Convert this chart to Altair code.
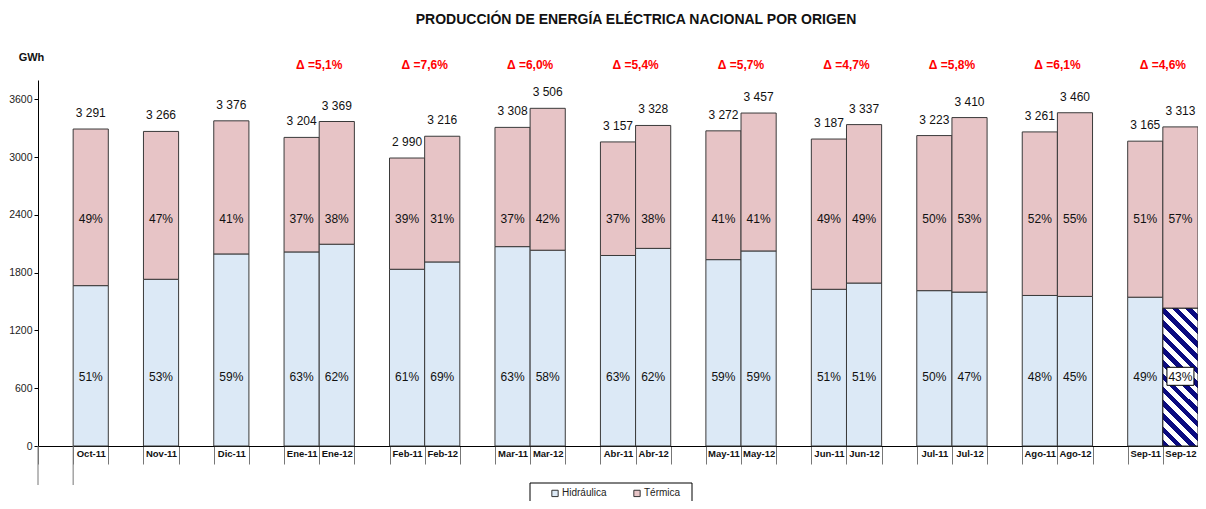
import altair as alt
import pandas as pd

# ---------------- data ----------------
slots = ["_0", "Oct-11", "_2", "Nov-11", "_4", "Dic-11", "_6", "Ene-11", "Ene-12", "_9",
         "Feb-11", "Feb-12", "_12", "Mar-11", "Mar-12", "_15", "Abr-11", "Abr-12", "_18",
         "May-11", "May-12", "_21", "Jun-11", "Jun-12", "_24", "Jul-11", "Jul-12", "_27",
         "Ago-11", "Ago-12", "_30", "Sep-11", "Sep-12"]

periods = ["Oct-11", "Nov-11", "Dic-11", "Ene-11", "Ene-12", "Feb-11", "Feb-12",
           "Mar-11", "Mar-12", "Abr-11", "Abr-12", "May-11", "May-12", "Jun-11", "Jun-12",
           "Jul-11", "Jul-12", "Ago-11", "Ago-12", "Sep-11", "Sep-12"]
totals = [3291, 3266, 3376, 3204, 3369, 2990, 3216, 3308, 3506, 3157, 3328,
          3272, 3457, 3187, 3337, 3223, 3410, 3261, 3460, 3165, 3313]
hydro = [1665, 1731, 1994, 2015, 2095, 1835, 1911, 2070, 2033, 1978, 2052,
         1935, 2025, 1627, 1692, 1613, 1598, 1563, 1553, 1545, 1430]
total_labels = ["3 291", "3 266", "3 376", "3 204", "3 369", "2 990", "3 216", "3 308",
                "3 506", "3 157", "3 328", "3 272", "3 457", "3 187", "3 337", "3 223",
                "3 410", "3 261", "3 460", "3 165", "3 313"]
hydro_pct = ["51%", "53%", "59%", "63%", "62%", "61%", "69%", "63%", "58%", "63%", "62%",
             "59%", "59%", "51%", "51%", "50%", "47%", "48%", "45%", "49%", "43%"]
thermal_pct = ["49%", "47%", "41%", "37%", "38%", "39%", "31%", "37%", "42%", "37%", "38%",
               "41%", "41%", "49%", "49%", "50%", "53%", "52%", "55%", "51%", "57%"]
delta_cats = ["Ene-12", "Feb-12", "Mar-12", "Abr-12", "May-12", "Jun-12", "Jul-12",
              "Ago-12", "Sep-12"]
delta_labels = ["Δ =5,1%", "Δ =7,6%", "Δ =6,0%", "Δ =5,4%", "Δ =5,7%", "Δ =4,7%",
                "Δ =5,8%", "Δ =6,1%", "Δ =4,6%"]
hatched_period = "Sep-12"
sources = ["Hidráulica", "Térmica"]

# ---------------- tables ----------------
rows = []
for p, t, h, hp, tp in zip(periods, totals, hydro, hydro_pct, thermal_pct):
    rows.append({"cat": p, "source": sources[0], "value": h, "ord": 0, "pct": hp})
    rows.append({"cat": p, "source": sources[1], "value": t - h, "ord": 1, "pct": tp})
long_df = pd.DataFrame(rows)
tot_df = pd.DataFrame({"cat": periods, "total": totals, "label": total_labels})
hydro_df = pd.DataFrame({"cat": periods, "value": hydro, "pct": hydro_pct})
therm_df = pd.DataFrame({"cat": periods, "pct": thermal_pct})
delta_df = pd.DataFrame({"cat": delta_cats, "label": delta_labels})
hatch_df = hydro_df[hydro_df["cat"] == hatched_period].reset_index(drop=True)
plain_hydro_df = hydro_df[hydro_df["cat"] != hatched_period].reset_index(drop=True)

FONT = "Liberation Sans, Arial, sans-serif"
BLUE = "#DCE9F6"
PINK = "#E7C4C6"
NAVY = "#0A0A80"

W, H = 1160, 366

XSCALE = alt.Scale(domain=slots, paddingInner=0, paddingOuter=0)
XAXIS = alt.Axis(
    title=None,
    labelExpr="(datum.value == null || indexof(datum.value + '', '_') == 0) ? '' : datum.value",
    labelFont=FONT, labelFontSize=9.5, labelFontWeight="bold",
    labelColor="#111", labelAngle=0, labelPadding=-16,
    tickBand="extent", tickSize=18, tickColor="#777", tickWidth=1,
    domainColor="#000", domainWidth=1, labelOverlap=False,
)
YSCALE = alt.Scale(domain=[0, 3800], nice=False)
YAXIS = alt.Axis(
    title="GWh", titleAngle=0, titleX=-7, titleY=-23, titleAlign="center",
    titleBaseline="middle",
    titleFont=FONT, titleFontSize=11, titleFontWeight="bold", titleColor="#111",
    values=[0, 600, 1200, 1800, 2400, 3000, 3600], format="d",
    labelFont=FONT, labelFontSize=10.5, labelColor="#222", labelPadding=2,
    tickSize=4, tickColor="#000", domainColor="#000", grid=False,
)


def X():
    return alt.X("cat:N", scale=XSCALE, axis=XAXIS)


bars = alt.Chart(long_df).mark_bar(stroke="#3a3a3a", strokeWidth=1).encode(
    x=X(),
    y=alt.Y("value:Q", stack="zero", scale=YSCALE, axis=YAXIS),
    color=alt.Color(
        "source:N",
        scale=alt.Scale(domain=sources, range=[BLUE, PINK]),
        legend=alt.Legend(
            title=None, orient="none", direction="horizontal",
            legendX=512, legendY=408, padding=0, columnPadding=24,
            symbolType="square", symbolSize=40, symbolStrokeColor="#333",
            symbolStrokeWidth=1, labelFont=FONT, labelFontSize=10,
            labelColor="#222", labelOffset=2,
        ),
    ),
    order=alt.Order("ord:Q"),
)

# diagonal hatch for the highlighted hydro bar (hard-stop linear gradient)
n_stripes = 13
stops = []
for i in range(n_stripes):
    stops.append({"offset": i / n_stripes, "color": NAVY})
    stops.append({"offset": (i + 0.5) / n_stripes, "color": NAVY})
    stops.append({"offset": (i + 0.5) / n_stripes, "color": "#FFFFFF"})
    stops.append({"offset": (i + 1) / n_stripes, "color": "#FFFFFF"})
gradient = {"gradient": "linear", "x1": 0, "y1": 1, "x2": 0.30, "y2": -0.178,
            "stops": stops}

hatch = alt.Chart(hatch_df).mark_bar(fill=gradient, stroke="#222", strokeWidth=1).encode(
    x=X(), y=alt.Y("value:Q", scale=YSCALE, axis=YAXIS)
)

tot_text = alt.Chart(tot_df).mark_text(
    font=FONT, fontSize=12, color="#111", baseline="middle", dy=-16
).encode(x=X(), y=alt.Y("total:Q", scale=YSCALE, axis=YAXIS), text="label:N")

therm_text = alt.Chart(therm_df).mark_text(
    font=FONT, fontSize=12, color="#111", baseline="middle"
).encode(x=X(), y=alt.datum(2357), text="pct:N")

hydro_text = alt.Chart(plain_hydro_df).mark_text(
    font=FONT, fontSize=12, color="#111", baseline="middle"
).encode(x=X(), y=alt.datum(716), text="pct:N")

box = alt.Chart(hatch_df).mark_bar(
    width=27, fill="#FFFFFF", stroke="#000", strokeWidth=1
).encode(x=X(), y=alt.datum(630), y2=alt.datum(817))

hatch_text = alt.Chart(hatch_df).mark_text(
    font=FONT, fontSize=12, color="#111", baseline="middle"
).encode(x=X(), y=alt.datum(716), text="pct:N")

delta_text = alt.Chart(delta_df).mark_text(
    font=FONT, fontSize=12, fontWeight="bold", color="#FF0000", baseline="middle"
).encode(x=alt.X("cat:N", bandPosition=0, scale=XSCALE, axis=XAXIS),
         y=alt.value(-15), text="label:N")

title = alt.Chart(tot_df.head(1)).mark_text(
    font=FONT, fontSize=14, fontWeight="bold", color="#111", baseline="middle"
).encode(x=alt.value(598), y=alt.value(-60),
         text=alt.value("PRODUCCIÓN DE ENERGÍA ELÉCTRICA NACIONAL POR ORIGEN"))

legend_box = alt.Chart(tot_df.head(1)).mark_rect(
    fillOpacity=0, stroke="#000", strokeWidth=1
).encode(x=alt.value(492), x2=alt.value(654), y=alt.value(403), y2=alt.value(440))

rule_a = alt.Chart(tot_df.head(1)).mark_rule(color="#777", strokeWidth=1).encode(
    x=alt.value(0), y=alt.value(H), y2=alt.value(H + 39))
rule_b = alt.Chart(tot_df.head(1)).mark_rule(color="#777", strokeWidth=1).encode(
    x=alt.value(W / 33), y=alt.value(H), y2=alt.value(H + 39))

chart = alt.layer(
    bars, hatch, tot_text, therm_text, hydro_text, box, hatch_text, delta_text,
    title, legend_box, rule_a, rule_b
).properties(
    width=W, height=H,
    autosize=alt.AutoSizeParams(type="none"),
    padding={"left": 30, "top": 72, "right": 0, "bottom": 55},
    background="white",
).configure_view(strokeWidth=0)

chart.save("out.html", embed_options={"renderer": "svg", "actions": False})
